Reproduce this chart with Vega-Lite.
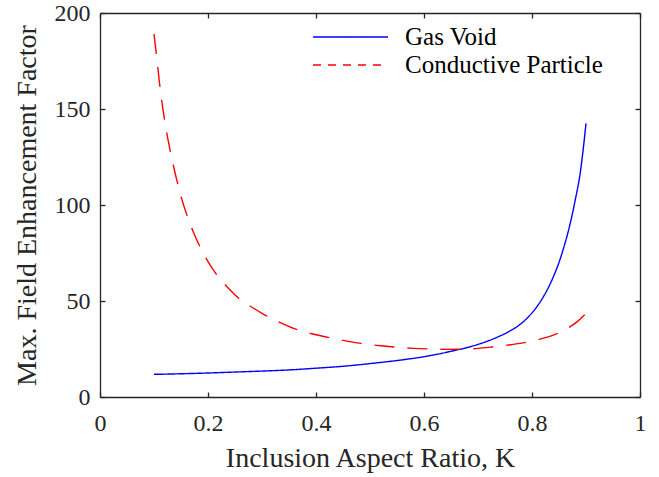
{
  "$schema": "https://vega.github.io/schema/vega-lite/v6.json",
  "width": 540,
  "height": 384,
  "autosize": {"type": "none"},
  "padding": {"left": 100, "top": 13, "right": 19, "bottom": 80},
  "config": {
    "font": "Liberation Serif",
    "view": {"stroke": null},
    "axis": {
      "grid": false,
      "domainColor": "#262626",
      "domainWidth": 1.3,
      "tickColor": "#262626",
      "tickWidth": 1.3,
      "tickSize": -5,
      "labelFlush": false,
      "labelColor": "#262626",
      "labelFontSize": 24,
      "labelFont": "Liberation Serif",
      "titleColor": "#262626",
      "titleFontSize": 28,
      "titleFont": "Liberation Serif",
      "titleFontWeight": "normal"
    }
  },
  "data": {
    "values": [
      {"K": 0.10, "F": 11.8, "series": "Gas Void"},
      {"K": 0.15, "F": 12.1, "series": "Gas Void"},
      {"K": 0.20, "F": 12.5, "series": "Gas Void"},
      {"K": 0.25, "F": 13.0, "series": "Gas Void"},
      {"K": 0.30, "F": 13.5, "series": "Gas Void"},
      {"K": 0.35, "F": 14.1, "series": "Gas Void"},
      {"K": 0.40, "F": 15.0, "series": "Gas Void"},
      {"K": 0.45, "F": 16.0, "series": "Gas Void"},
      {"K": 0.50, "F": 17.4, "series": "Gas Void"},
      {"K": 0.55, "F": 19.0, "series": "Gas Void"},
      {"K": 0.60, "F": 21.0, "series": "Gas Void"},
      {"K": 0.625, "F": 22.3, "series": "Gas Void"},
      {"K": 0.65, "F": 23.8, "series": "Gas Void"},
      {"K": 0.675, "F": 25.4, "series": "Gas Void"},
      {"K": 0.70, "F": 27.4, "series": "Gas Void"},
      {"K": 0.725, "F": 29.9, "series": "Gas Void"},
      {"K": 0.74, "F": 31.7, "series": "Gas Void"},
      {"K": 0.75, "F": 33.0, "series": "Gas Void"},
      {"K": 0.76, "F": 34.5, "series": "Gas Void"},
      {"K": 0.77, "F": 36.2, "series": "Gas Void"},
      {"K": 0.78, "F": 38.3, "series": "Gas Void"},
      {"K": 0.79, "F": 40.8, "series": "Gas Void"},
      {"K": 0.80, "F": 43.8, "series": "Gas Void"},
      {"K": 0.81, "F": 47.4, "series": "Gas Void"},
      {"K": 0.82, "F": 51.7, "series": "Gas Void"},
      {"K": 0.83, "F": 56.8, "series": "Gas Void"},
      {"K": 0.84, "F": 62.9, "series": "Gas Void"},
      {"K": 0.85, "F": 70.1, "series": "Gas Void"},
      {"K": 0.86, "F": 79.0, "series": "Gas Void"},
      {"K": 0.87, "F": 89.5, "series": "Gas Void"},
      {"K": 0.88, "F": 102.5, "series": "Gas Void"},
      {"K": 0.89, "F": 118.0, "series": "Gas Void"},
      {"K": 0.895, "F": 129.5, "series": "Gas Void"},
      {"K": 0.90, "F": 142.5, "series": "Gas Void"},
      {"K": 0.10, "F": 189.0, "series": "Conductive Particle"},
      {"K": 0.105, "F": 177.0, "series": "Conductive Particle"},
      {"K": 0.11, "F": 164.0, "series": "Conductive Particle"},
      {"K": 0.12, "F": 143.5, "series": "Conductive Particle"},
      {"K": 0.13, "F": 128.3, "series": "Conductive Particle"},
      {"K": 0.14, "F": 115.5, "series": "Conductive Particle"},
      {"K": 0.15, "F": 104.5, "series": "Conductive Particle"},
      {"K": 0.16, "F": 95.5, "series": "Conductive Particle"},
      {"K": 0.175, "F": 84.5, "series": "Conductive Particle"},
      {"K": 0.19, "F": 75.5, "series": "Conductive Particle"},
      {"K": 0.20, "F": 70.5, "series": "Conductive Particle"},
      {"K": 0.22, "F": 62.3, "series": "Conductive Particle"},
      {"K": 0.24, "F": 56.0, "series": "Conductive Particle"},
      {"K": 0.26, "F": 50.7, "series": "Conductive Particle"},
      {"K": 0.28, "F": 47.0, "series": "Conductive Particle"},
      {"K": 0.30, "F": 43.6, "series": "Conductive Particle"},
      {"K": 0.33, "F": 39.3, "series": "Conductive Particle"},
      {"K": 0.36, "F": 35.6, "series": "Conductive Particle"},
      {"K": 0.40, "F": 32.4, "series": "Conductive Particle"},
      {"K": 0.43, "F": 30.6, "series": "Conductive Particle"},
      {"K": 0.46, "F": 29.0, "series": "Conductive Particle"},
      {"K": 0.49, "F": 27.6, "series": "Conductive Particle"},
      {"K": 0.52, "F": 26.7, "series": "Conductive Particle"},
      {"K": 0.55, "F": 25.9, "series": "Conductive Particle"},
      {"K": 0.58, "F": 25.3, "series": "Conductive Particle"},
      {"K": 0.61, "F": 25.0, "series": "Conductive Particle"},
      {"K": 0.64, "F": 24.8, "series": "Conductive Particle"},
      {"K": 0.67, "F": 24.9, "series": "Conductive Particle"},
      {"K": 0.70, "F": 25.3, "series": "Conductive Particle"},
      {"K": 0.73, "F": 26.2, "series": "Conductive Particle"},
      {"K": 0.76, "F": 27.2, "series": "Conductive Particle"},
      {"K": 0.79, "F": 28.5, "series": "Conductive Particle"},
      {"K": 0.82, "F": 30.5, "series": "Conductive Particle"},
      {"K": 0.85, "F": 33.5, "series": "Conductive Particle"},
      {"K": 0.87, "F": 36.5, "series": "Conductive Particle"},
      {"K": 0.885, "F": 39.5, "series": "Conductive Particle"},
      {"K": 0.90, "F": 43.5, "series": "Conductive Particle"}
    ]
  },
  "layer": [
    {
      "mark": {"type": "line", "strokeWidth": 1.4, "clip": false, "interpolate": "monotone"},
      "encoding": {
        "x": {
          "field": "K", "type": "quantitative",
          "scale": {"domain": [0, 1], "nice": false, "zero": false},
          "axis": {"orient": "bottom", "values": [0, 0.2, 0.4, 0.6, 0.8, 1], "format": "~g", "title": "Inclusion Aspect Ratio, K", "labelPadding": 19, "titlePadding": 9}
        },
        "y": {
          "field": "F", "type": "quantitative",
          "scale": {"domain": [0, 200], "nice": false},
          "axis": {"orient": "left", "values": [0, 50, 100, 150, 200], "title": "Max. Field Enhancement Factor", "labelPadding": 15, "titlePadding": 13}
        },
        "color": {
          "field": "series", "type": "nominal",
          "scale": {"domain": ["Gas Void", "Conductive Particle"], "range": ["#0000ff", "#ff0000"]},
          "legend": null
        },
        "strokeDash": {
          "field": "series", "type": "nominal",
          "scale": {"domain": ["Gas Void", "Conductive Particle"], "range": [[1, 0], [20, 13]]},
          "legend": null
        }
      }
    },
    {
      "transform": [{"filter": "datum.K < 0"}],
      "mark": {"type": "line", "strokeWidth": 1.6},
      "encoding": {
        "x": {
          "field": "K", "type": "quantitative",
          "axis": {"orient": "top", "values": [0, 0.2, 0.4, 0.6, 0.8, 1], "labels": false, "title": null}
        },
        "y": {
          "field": "F", "type": "quantitative",
          "axis": {"orient": "right", "values": [0, 50, 100, 150, 200], "labels": false, "title": null}
        },
        "color": {
          "field": "series", "type": "nominal",
          "scale": {"domain": ["Gas Void", "Conductive Particle"], "range": ["#0000ff", "#ff0000"]},
          "legend": {
            "title": null,
            "orient": "none",
            "legendX": 235.5,
            "legendY": 9,
            "padding": 0,
            "symbolType": "M-2.68,0L2.68,0",
            "symbolSize": 784,
            "symbolStrokeWidth": 1.6,
            "labelFontSize": 25,
            "labelFont": "Liberation Serif",
            "labelColor": "#000000",
            "labelLimit": 0,
            "labelOffset": 39.5,
            "rowPadding": 0
          }
        },
        "strokeDash": {
          "field": "series", "type": "nominal",
          "scale": {"domain": ["Gas Void", "Conductive Particle"], "range": [[1, 0], [8, 7]]},
          "legend": {
            "title": null,
            "orient": "none",
            "legendX": 235.5,
            "legendY": 9,
            "padding": 0,
            "symbolType": "M-2.68,0L2.68,0",
            "symbolSize": 784,
            "symbolStrokeWidth": 1.6,
            "labelFontSize": 25,
            "labelFont": "Liberation Serif",
            "labelColor": "#000000",
            "labelLimit": 0,
            "labelOffset": 39.5,
            "rowPadding": 0
          }
        }
      }
    }
  ],
  "resolve": {
    "axis": {"x": "independent", "y": "independent"},
    "scale": {"strokeDash": "independent", "color": "independent"}
  }
}
